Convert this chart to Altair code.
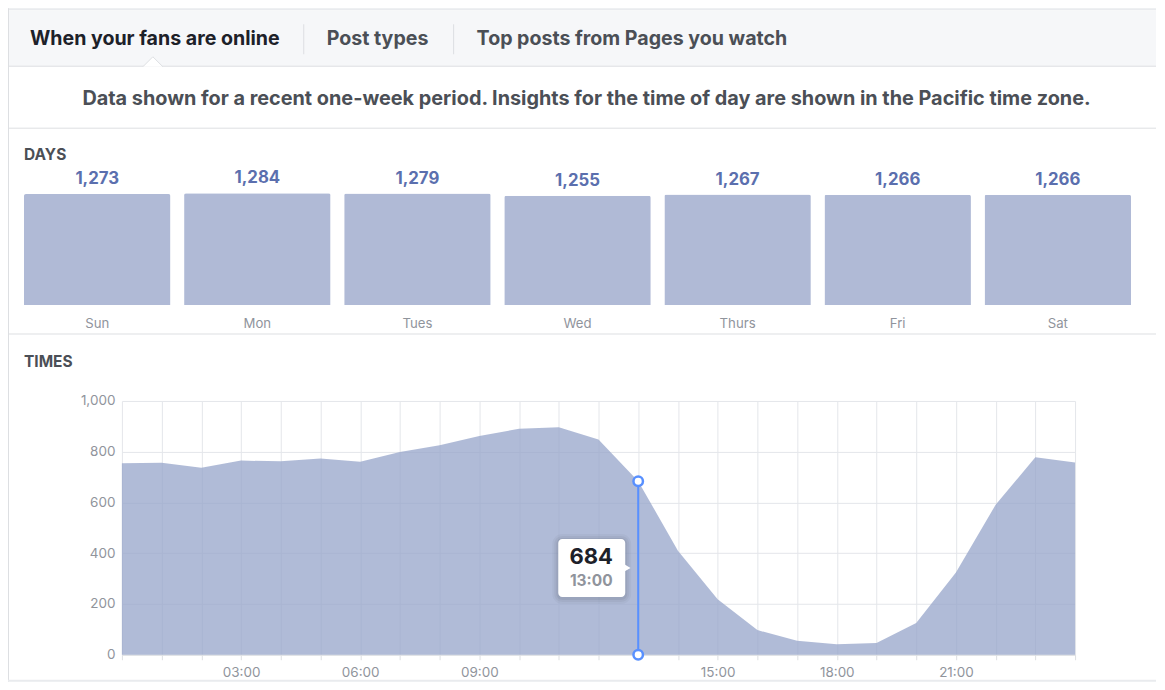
import altair as alt
import pandas as pd

# ---------------- data ----------------
tabs = ["When your fans are online", "Post types", "Top posts from Pages you watch"]
subtitle = ("Data shown for a recent one-week period. Insights for the time of day "
            "are shown in the Pacific time zone.")
days_title = "DAYS"
times_title = "TIMES"

days = ["Sun", "Mon", "Tues", "Wed", "Thurs", "Fri", "Sat"]
day_fans = [1273, 1284, 1279, 1255, 1267, 1266, 1266]

hours = [0, 1, 2, 3, 4, 5, 6, 7, 8, 9, 10, 11, 12,
         13, 14, 15, 16, 17, 18, 19, 20, 21, 22, 23, 24]
hour_fans = [755, 756, 737, 765, 762, 773, 760, 799, 825, 862, 890, 896, 848,
             684, 410, 219, 97, 55, 41, 46, 125, 324, 591, 778, 757]
hour_labels = ["03:00", "06:00", "09:00", "15:00", "18:00", "21:00"]
y_ticks = [0, 200, 400, 600, 800, 1000]

highlight_hour = 13
highlight_label = "13:00"

# ---------------- styles ----------------
FONT = "Inter"
W, H = 954, 254
BORDER = "#dddfe2"
OUTER = "#e9ebee"
GREY_TXT = "#90949c"
DARK_TXT = "#4b4f56"
BLUE = "#5890ff"

one = alt.Data(values=[{}])


def rect(x, x2, y, y2, color, **kw):
    return alt.Chart(one).mark_rect(color=color, **kw).encode(
        x=alt.value(x), x2=alt.value(x2), y=alt.value(y), y2=alt.value(y2))


def hline(x, x2, y, color=BORDER):
    return alt.Chart(one).mark_rule(color=color, strokeWidth=1).encode(
        x=alt.value(x), x2=alt.value(x2), y=alt.value(y))


def vline(x, y, y2, color=BORDER):
    return alt.Chart(one).mark_rule(color=color, strokeWidth=1).encode(
        x=alt.value(x), y=alt.value(y), y2=alt.value(y2))


def label(txt, x, y, size, color, weight="bold", align="left"):
    return alt.Chart(one).mark_text(
        font=FONT, fontSize=size, fontWeight=weight, color=color,
        align=align, baseline="middle").encode(
        x=alt.value(x), y=alt.value(y), text=alt.value(txt))


L, R = -114, 1035

deco = [
    rect(L, R, -393, -391, OUTER),
    rect(L, L + 1, -393, 281, BORDER),
    rect(L, R, 279, 281, OUTER),
    rect(L + 1, R, -391, -335, "#f6f7f9"),
    hline(L + 1, R, -335),
    alt.Chart(one).mark_point(
        shape="M-1,0.5L0,-0.5L1,0.5", filled=True, fill="#ffffff",
        stroke=BORDER, strokeWidth=1, size=400, opacity=1).encode(
        x=alt.value(31), y=alt.value(-339.5)),
    vline(182, -377, -347),
    vline(332, -377, -347),
    label(tabs[0], -92, -362, 19.6, "#1d2129"),
    label(tabs[1], 205, -362, 19.6, DARK_TXT),
    label(tabs[2], 355, -362, 19.6, DARK_TXT),
    label(subtitle, 465, -302, 19.85, DARK_TXT, align="center"),
    hline(L + 1, R, -273),
    label(days_title, -98, -246, 15.5, DARK_TXT),
    hline(L + 1, R, -67),
    label(times_title, -98, -39, 15.5, DARK_TXT),
]

# ---------------- days bars ----------------
days_df = pd.DataFrame({"day": days, "fans": day_fans})
dxs = alt.Scale(domain=days, range=[-98, 1010], paddingInner=0.085, paddingOuter=0)
dys = alt.Scale(domain=[0, max(day_fans)], range=[-96, -208], nice=False)
dX = alt.X("day:N", scale=dxs, axis=None, sort=days)
bars = alt.Chart(days_df).mark_bar(
    color="#b0bad6", cornerRadiusTopLeft=2, cornerRadiusTopRight=2).encode(
    x=dX, y=alt.Y("fans:Q", scale=dys, axis=None))
bar_vals = alt.Chart(days_df).mark_text(
    dy=-15, baseline="middle", font=FONT, fontSize=16.8, fontWeight="bold",
    color="#5b6fae").encode(
    x=dX, y=alt.Y("fans:Q", scale=dys, axis=None),
    text=alt.Text("fans:Q", format=","))
bar_names = alt.Chart(days_df).mark_text(
    baseline="middle", font=FONT, fontSize=13.2, color=GREY_TXT).encode(
    x=dX, y=alt.value(-77), text="day:N")
days_layer = alt.layer(bars, bar_vals, bar_names)

# ---------------- times area ----------------
times_df = pd.DataFrame({"hour": hours, "fans": hour_fans})
xs = alt.Scale(domain=[0, 24], nice=False)
ys = alt.Scale(domain=[0, 1000], nice=False)
shown = "[" + ",".join("'%s'" % s for s in hour_labels) + "]"
lab_expr = ("indexof(%s, (datum.value < 10 ? '0' : '') + datum.value + ':00') >= 0 ? "
            "(datum.value < 10 ? '0' : '') + datum.value + ':00' : ''") % shown
x_axis = alt.Axis(
    values=hours, labelExpr=lab_expr, title=None, grid=True,
    gridColor="#e4e6ea", domainColor=BORDER, tickColor=BORDER, tickSize=5,
    labelColor=GREY_TXT, labelFont=FONT, labelFontSize=13.5, labelPadding=6,
    labelOverlap=False, labelFlush=False)
y_axis = alt.Axis(
    values=y_ticks, labelExpr="format(datum.value, ',')", title=None,
    domain=False, ticks=False, grid=True, gridColor="#e4e6ea",
    labelColor=GREY_TXT, labelFont=FONT, labelFontSize=13.5, labelPadding=7)

hX = alt.X("hour:Q", scale=xs, axis=x_axis, title=None)
hX2 = alt.X2("hour:Q")


def hY(field):
    return alt.Y(field, scale=ys, axis=y_axis, title=None)


area = alt.Chart(times_df).mark_area(color="#96a4ca", opacity=0.75).encode(
    x=hX, y=hY("fans:Q"))

hl_df = pd.DataFrame({
    "hour": [highlight_hour],
    "fans": [hour_fans[hours.index(highlight_hour)]],
    "label": [highlight_label],
})
hl = alt.Chart(hl_df).transform_calculate(mid="datum.fans / 2", zero="0")

shadow = [
    hl.mark_rect(color="#000000", opacity=op, cornerRadius=4 + g,
                 xOffset=-80 - g, x2Offset=-13 + g,
                 yOffset=-29 - g + 1, y2Offset=29 + g + 1).encode(
        x=hX, x2=hX2, y=hY("mid:Q"), y2="mid:Q")
    for g, op in [(6, 0.03), (4, 0.04), (2, 0.05)]
]
box = hl.mark_rect(color="#ffffff", cornerRadius=4, xOffset=-80, x2Offset=-13,
                   yOffset=-29, y2Offset=29).encode(
    x=hX, x2=hX2, y=hY("mid:Q"), y2="mid:Q")
arrow = hl.mark_point(shape="triangle-right", filled=True, color="#ffffff",
                      size=60, opacity=1, xOffset=-11).encode(
    x=hX, y=hY("mid:Q"))
val_txt = hl.mark_text(font=FONT, fontSize=22, fontWeight="bold", color="#1d2129",
                       dx=-47, dy=-11, baseline="middle").encode(
    x=hX, y=hY("mid:Q"), text="fans:Q")
time_txt = hl.mark_text(font=FONT, fontSize=15.5, fontWeight="bold", color=GREY_TXT,
                        dx=-47, dy=13, baseline="middle").encode(
    x=hX, y=hY("mid:Q"), text="label:N")
rule = hl.mark_rule(color=BLUE, strokeWidth=2).encode(
    x=hX, y=hY("fans:Q"), y2="zero:Q")
dot_top = hl.mark_point(shape="circle", filled=True, fill="#ffffff", stroke=BLUE,
                        strokeWidth=2.5, size=90, opacity=1).encode(
    x=hX, y=hY("fans:Q"))
dot_bot = hl.mark_point(shape="circle", filled=True, fill="#ffffff", stroke=BLUE,
                        strokeWidth=2.5, size=90, opacity=1).encode(
    x=hX, y=hY("zero:Q"))

times_layer = alt.layer(area, *shadow, box, arrow, val_txt, time_txt,
                        rule, dot_top, dot_bot)

chart = alt.layer(*deco, days_layer, times_layer).resolve_scale(
    x="independent", y="independent").properties(
    width=W, height=H, padding=0, background="#ffffff").configure_view(stroke=None)

chart.save("out.html", embed_options={"renderer": "svg", "actions": False})
